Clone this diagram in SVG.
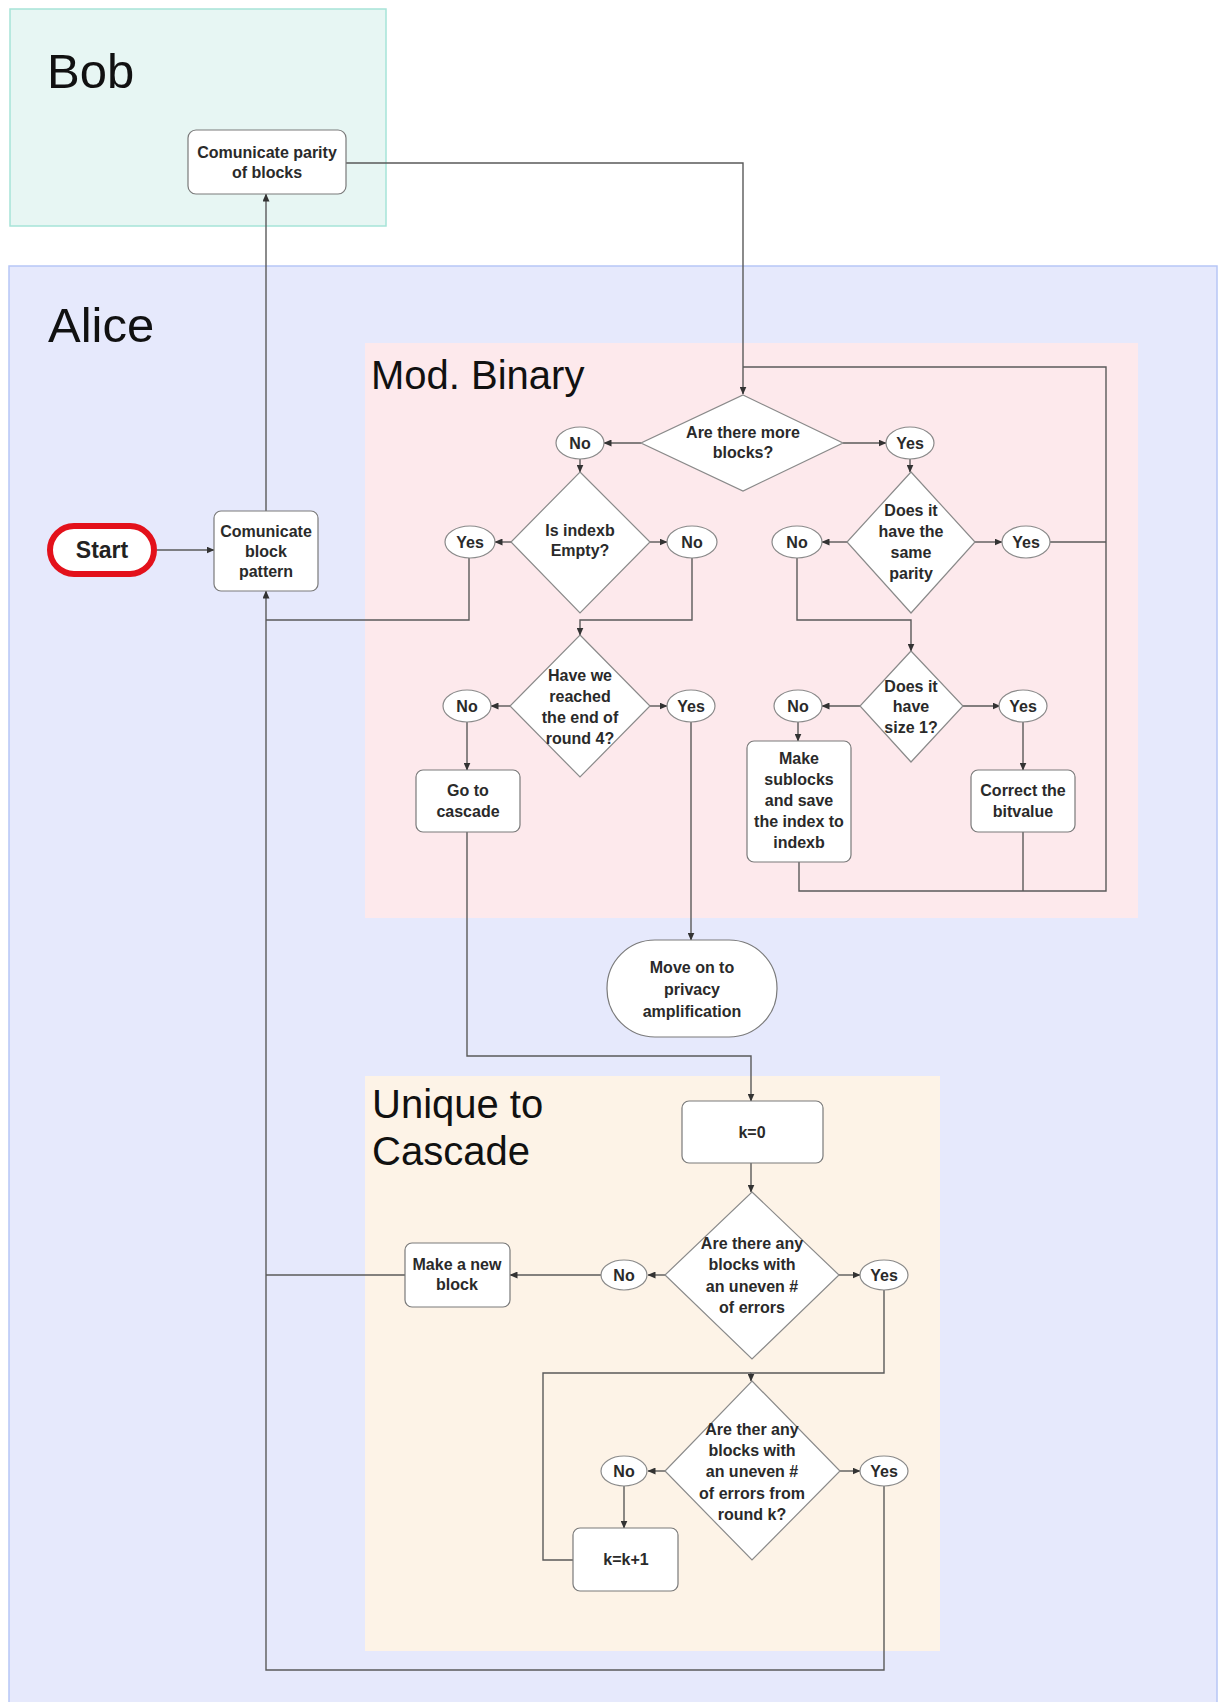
<svg xmlns="http://www.w3.org/2000/svg" width="1227" height="1702" viewBox="0 0 1227 1702">
<style>
.lane-t{font-family:"Liberation Sans",Arial,sans-serif;font-size:49px;fill:#111}
.sec-t{font-family:"Liberation Sans",Arial,sans-serif;font-size:40px;fill:#111}
.t{font-family:"Liberation Sans",Arial,sans-serif;font-size:16px;font-weight:bold;fill:#2a2a2a;text-anchor:middle}
.box{fill:#fff;stroke:#7a7a7a;stroke-width:1.2}
.dia{fill:#fff;stroke:#8a8a8a;stroke-width:1.2}
.ell{fill:#fff;stroke:#8a8a8a;stroke-width:1.2}
.c{fill:none;stroke:#5a5a5a;stroke-width:1.4}
.ca{fill:none;stroke:#5a5a5a;stroke-width:1.4;marker-end:url(#ah)}
</style>
<defs>
<marker id="ah" markerWidth="8" markerHeight="7" refX="7.5" refY="3.5" orient="auto" markerUnits="userSpaceOnUse">
<path d="M0,0 L8,3.5 L0,7 z" fill="#333"/>
</marker>
</defs>
<rect width="1227" height="1702" fill="#fff"/>
<g id="lane-bob">
<rect x="10" y="9" width="376" height="217" fill="#e7f6f3" stroke="#a6e4d8" stroke-width="1.5"/>
<text class="lane-t" x="47" y="88">Bob</text>
</g>
<g id="lane-alice">
<rect x="9" y="266" width="1208" height="1445" fill="#e6e9fc" stroke="#b7c6f6" stroke-width="1.5"/>
<text class="lane-t" x="48" y="342">Alice</text>
</g>
<g id="sec-modbinary">
<rect x="365" y="343" width="773" height="575" fill="#fde9ec"/>
<text class="sec-t" x="371" y="389">Mod. Binary</text>
</g>
<g id="sec-cascade">
<rect x="365" y="1076" width="575" height="575" fill="#fdf3e7"/>
<text class="sec-t" x="372" y="1118">Unique to</text>
<text class="sec-t" x="372" y="1165">Cascade</text>
</g>
<g id="connectors">
<path class="ca" d="M157,550 L214,550"/>
<path class="ca" d="M266,511 L266,194"/>
<path class="ca" d="M346,163 L743,163 L743,394"/>
<path class="ca" d="M641,443 L604,443"/>
<path class="ca" d="M843,443 L886,443"/>
<path class="ca" d="M580,459 L580,472"/>
<path class="ca" d="M511,542 L495,542"/>
<path class="ca" d="M650,542 L667,542"/>
<path class="c" d="M469,558 L469,620 L266,620"/>
<path class="ca" d="M692,558 L692,620 L580,620 L580,635"/>
<path class="ca" d="M510,706 L491,706"/>
<path class="ca" d="M650,706 L667,706"/>
<path class="ca" d="M467,722 L467,770"/>
<path class="ca" d="M691,722 L691,940"/>
<path class="ca" d="M467,832 L467,1056 L751,1056 L751,1101"/>
<path class="ca" d="M751,1163 L751,1192"/>
<path class="ca" d="M665,1275 L648,1275"/>
<path class="ca" d="M839,1275 L860,1275"/>
<path class="ca" d="M601,1275 L510,1275"/>
<path class="c" d="M405,1275 L266,1275"/>
<path class="ca" d="M884,1290 L884,1373 L751,1373 L751,1381"/>
<path class="ca" d="M665,1471 L648,1471"/>
<path class="ca" d="M840,1471 L860,1471"/>
<path class="ca" d="M624,1486 L624,1528"/>
<path class="c" d="M573,1560 L543,1560 L543,1373 L751,1373"/>
<path class="ca" d="M884,1486 L884,1670 L266,1670 L266,591"/>
<path class="ca" d="M910,459 L910,472"/>
<path class="ca" d="M847,542 L822,542"/>
<path class="ca" d="M975,542 L1002,542"/>
<path class="c" d="M1050,542 L1106,542"/>
<path class="ca" d="M797,558 L797,620 L911,620 L911,651"/>
<path class="ca" d="M860,706 L822,706"/>
<path class="ca" d="M963,706 L1000,706"/>
<path class="ca" d="M798,722 L798,741"/>
<path class="ca" d="M1023,722 L1023,770"/>
<path class="c" d="M799,862 L799,891 L1106,891 L1106,367 L743,367"/>
<path class="c" d="M1023,832 L1023,891"/>
</g>
<g id="n-parity">
<rect class="box" x="188" y="130" width="158" height="64" rx="8"/>
<text class="t" x="267" y="158">Comunicate parity</text>
<text class="t" x="267" y="178">of blocks</text>
</g>
<g id="n-start">
<rect x="50" y="526" width="104" height="48" rx="24" fill="#fff" stroke="#e3111b" stroke-width="6"/>
<text class="t" x="102" y="558" style="font-size:23px;fill:#222">Start</text>
</g>
<g id="n-pattern">
<rect class="box" x="214" y="511" width="104" height="80" rx="7"/>
<text class="t" x="266" y="537">Comunicate</text>
<text class="t" x="266" y="557">block</text>
<text class="t" x="266" y="577">pattern</text>
</g>
<g id="n-more">
<polygon class="dia" points="743,395 843,443 743,491 641,443"/>
<text class="t" x="743" y="438">Are there more</text>
<text class="t" x="743" y="458">blocks?</text>
</g>
<g id="n-no1"><ellipse class="ell" cx="580" cy="443" rx="24" ry="16"/><text class="t" x="580" y="449">No</text></g>
<g id="n-yes1"><ellipse class="ell" cx="910" cy="443" rx="24" ry="16"/><text class="t" x="910" y="449">Yes</text></g>
<g id="n-indexb">
<polygon class="dia" points="580,472 650,542 580,613 511,542"/>
<text class="t" x="580" y="536">Is indexb</text>
<text class="t" x="580" y="556">Empty?</text>
</g>
<g id="n-yes2"><ellipse class="ell" cx="470" cy="542" rx="25" ry="16"/><text class="t" x="470" y="548">Yes</text></g>
<g id="n-no2"><ellipse class="ell" cx="692" cy="542" rx="25" ry="16"/><text class="t" x="692" y="548">No</text></g>
<g id="n-round4">
<polygon class="dia" points="580,635 650,706 580,777 510,706"/>
<text class="t" x="580" y="681">Have we</text>
<text class="t" x="580" y="702">reached</text>
<text class="t" x="580" y="723">the end of</text>
<text class="t" x="580" y="744">round 4?</text>
</g>
<g id="n-no3"><ellipse class="ell" cx="467" cy="706" rx="24" ry="16"/><text class="t" x="467" y="712">No</text></g>
<g id="n-yes3"><ellipse class="ell" cx="691" cy="706" rx="24" ry="16"/><text class="t" x="691" y="712">Yes</text></g>
<g id="n-gocascade">
<rect class="box" x="416" y="770" width="104" height="62" rx="7"/>
<text class="t" x="468" y="796">Go to</text>
<text class="t" x="468" y="817">cascade</text>
</g>
<g id="n-privacy">
<rect class="box" x="607" y="940" width="170" height="97" rx="48"/>
<text class="t" x="692" y="973">Move on to</text>
<text class="t" x="692" y="995">privacy</text>
<text class="t" x="692" y="1017">amplification</text>
</g>
<g id="n-parity2">
<polygon class="dia" points="911,472 975,542 911,613 847,542"/>
<text class="t" x="911" y="516">Does it</text>
<text class="t" x="911" y="537">have the</text>
<text class="t" x="911" y="558">same</text>
<text class="t" x="911" y="579">parity</text>
</g>
<g id="n-no4"><ellipse class="ell" cx="797" cy="542" rx="25" ry="16"/><text class="t" x="797" y="548">No</text></g>
<g id="n-yes4"><ellipse class="ell" cx="1026" cy="542" rx="24" ry="16"/><text class="t" x="1026" y="548">Yes</text></g>
<g id="n-size1">
<polygon class="dia" points="911,651 963,706 911,762 860,706"/>
<text class="t" x="911" y="692">Does it</text>
<text class="t" x="911" y="712">have</text>
<text class="t" x="911" y="733">size 1?</text>
</g>
<g id="n-no7"><ellipse class="ell" cx="798" cy="706" rx="24" ry="16"/><text class="t" x="798" y="712">No</text></g>
<g id="n-yes7"><ellipse class="ell" cx="1023" cy="706" rx="24" ry="16"/><text class="t" x="1023" y="712">Yes</text></g>
<g id="n-sublocks">
<rect class="box" x="747" y="741" width="104" height="121" rx="7"/>
<text class="t" x="799" y="764">Make</text>
<text class="t" x="799" y="785">sublocks</text>
<text class="t" x="799" y="806">and save</text>
<text class="t" x="799" y="827">the index to</text>
<text class="t" x="799" y="848">indexb</text>
</g>
<g id="n-correct">
<rect class="box" x="971" y="770" width="104" height="62" rx="7"/>
<text class="t" x="1023" y="796">Correct the</text>
<text class="t" x="1023" y="817">bitvalue</text>
</g>
<g id="n-k0">
<rect class="box" x="682" y="1101" width="141" height="62" rx="7"/>
<text class="t" x="752" y="1138">k=0</text>
</g>
<g id="n-uneven">
<polygon class="dia" points="752,1192 839,1275 752,1359 665,1275"/>
<text class="t" x="752" y="1249">Are there any</text>
<text class="t" x="752" y="1270">blocks with</text>
<text class="t" x="752" y="1292">an uneven #</text>
<text class="t" x="752" y="1313">of errors</text>
</g>
<g id="n-no5"><ellipse class="ell" cx="624" cy="1275" rx="23" ry="15"/><text class="t" x="624" y="1281">No</text></g>
<g id="n-yes5"><ellipse class="ell" cx="884" cy="1275" rx="24" ry="15"/><text class="t" x="884" y="1281">Yes</text></g>
<g id="n-newblock">
<rect class="box" x="405" y="1243" width="105" height="64" rx="7"/>
<text class="t" x="457" y="1270">Make a new</text>
<text class="t" x="457" y="1290">block</text>
</g>
<g id="n-roundk">
<polygon class="dia" points="752,1381 840,1471 752,1560 665,1471"/>
<text class="t" x="752" y="1435">Are ther any</text>
<text class="t" x="752" y="1456">blocks with</text>
<text class="t" x="752" y="1477">an uneven #</text>
<text class="t" x="752" y="1499">of errors from</text>
<text class="t" x="752" y="1520">round k?</text>
</g>
<g id="n-no6"><ellipse class="ell" cx="624" cy="1471" rx="23" ry="15"/><text class="t" x="624" y="1477">No</text></g>
<g id="n-yes6"><ellipse class="ell" cx="884" cy="1471" rx="24" ry="15"/><text class="t" x="884" y="1477">Yes</text></g>
<g id="n-kk1">
<rect class="box" x="573" y="1528" width="105" height="63" rx="7"/>
<text class="t" x="626" y="1565">k=k+1</text>
</g>
</svg>
